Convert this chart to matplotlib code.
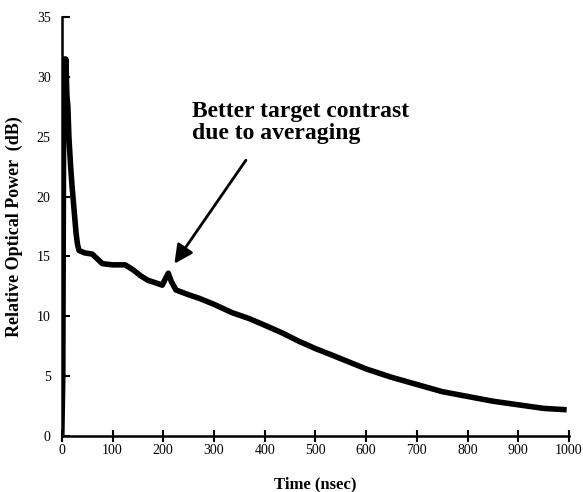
import numpy as np
import matplotlib
matplotlib.use('Agg')
import matplotlib.pyplot as plt

# Trace (time in nsec, power in dB)
time_ns = [0, 2, 4, 6, 8, 10, 12, 14, 17, 20, 23, 26, 28, 31, 34,
           45, 60, 70, 80, 100, 125, 140, 155, 170, 185, 198, 205, 210,
           216, 225, 250, 271, 300, 336, 370, 403, 435, 468, 500, 530,
           565, 600, 650, 700, 750, 800, 850, 900, 950, 990]
power_db = [0.0, 5.0, 31.5, 29.0, 31.5, 28.5, 27.5, 25.0, 22.8, 21.0,
            19.5, 18.0, 17.0, 16.0, 15.5, 15.3, 15.2, 14.8, 14.4, 14.3,
            14.3, 13.9, 13.4, 13.0, 12.8, 12.6, 13.2, 13.6, 12.9, 12.2,
            11.8, 11.5, 11.0, 10.3, 9.8, 9.2, 8.6, 7.9, 7.3, 6.8, 6.2,
            5.6, 4.9, 4.3, 3.7, 3.3, 2.9, 2.6, 2.3, 2.2]

x_ticks = [0, 100, 200, 300, 400, 500, 600, 700, 800, 900, 1000]
y_ticks = [0, 5, 10, 15, 20, 25, 30, 35]

plt.rcParams['font.family'] = ['Liberation Serif', 'DejaVu Serif']

fig = plt.figure(figsize=(5.83, 4.92), dpi=100)
ax = fig.add_axes([0.106, 0.114, 0.87, 0.851])

ax.plot(time_ns, power_db, color='black', linewidth=4, solid_joinstyle='round')

ax.set_xlim(0, 1000)
ax.set_ylim(0, 35)
ax.set_xticks(x_ticks)
ax.set_yticks(y_ticks)
ax.tick_params(axis='x', direction='inout', length=9, width=1.5, labelsize=10, pad=1)
ax.tick_params(axis='y', direction='in', length=6, width=1.5, labelsize=10, pad=8)

for side in ['top', 'right']:
    ax.spines[side].set_visible(False)
for side in ['left', 'bottom']:
    ax.spines[side].set_linewidth(1.8)

ax.set_xlabel('Time (nsec)', fontsize=12, fontweight='bold', labelpad=14)
ax.set_ylabel('Relative Optical Power  (dB)', fontsize=13, fontweight='bold', labelpad=10)

ax.annotate('Better target contrast\ndue to averaging',
            xy=(222, 14.4), xytext=(257, 28.0),
            fontsize=17, fontweight='bold', ha='left', va='top',
            linespacing=1.05,
            arrowprops=dict(arrowstyle='-|>', color='black', lw=2,
                            mutation_scale=28, shrinkA=12, shrinkB=0,
                            relpos=(0.3, 0)))

fig.savefig('out.png', dpi=100)
